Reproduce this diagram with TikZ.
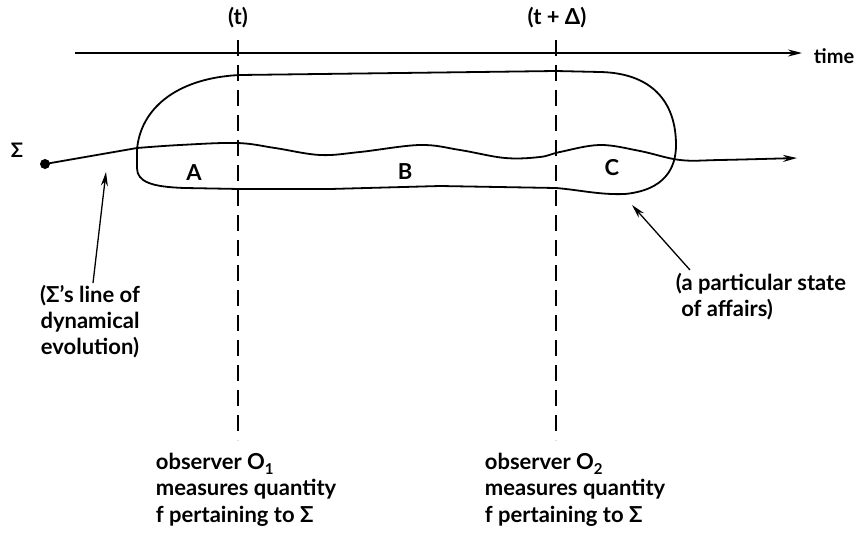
\documentclass[tikz,border=0pt]{standalone}
\usepackage{fontspec}
\setmainfont{Lato}
\usetikzlibrary{arrows.meta}
\begin{document}
\begin{tikzpicture}[x=1pt,y=-1pt,
  line width=1.8pt,
  lbl/.style={font=\fontsize{22}{26}\selectfont\bfseries, inner sep=0pt},
  bot/.style={font=\fontsize{22}{26.5}\selectfont\bfseries, inner sep=0pt, align=left, anchor=north west},
  dashline/.style={line width=1.3pt, dash pattern=on 16pt off 9pt},
  arr/.style={-{Stealth[length=14pt,width=7pt]}}]
\useasboundingbox (0,0) rectangle (865,543);
% time axis
\coordinate (t0) at (75,53);
\coordinate (t1) at (802,53);
\draw[arr] (t0) -- (t1);
\node[lbl, anchor=west, font=\fontsize{20}{24}\selectfont\bfseries] (time) at (813,56) {time};
\node[lbl] (tl) at (238,18) {(t)};
\node[lbl] (tdl) at (557,18) {(t + Δ)};
% dashed verticals
\coordinate (d1a) at (238,40); \coordinate (d1b) at (238,440);
\coordinate (d2a) at (556,40); \coordinate (d2b) at (556,440);
\draw[dashline] (d1a) -- (d1b);
\draw[dashline] (d2a) -- (d2b);
% blob
\draw (137,150) -- (137,168) .. controls (137,182) and (152,187) .. (185,188)
  -- (240,189) -- (330,189) -- (440,186) -- (556,188)
  .. controls (580,190) and (600,195) .. (625,194)
  .. controls (665,190) and (676,168) .. (676,145)
  .. controls (676,100) and (650,73) .. (600,72)
  -- (556,71) -- (400,73) -- (240,75)
  .. controls (175,78) and (140,110) .. (137,150) -- cycle;
% sigma
\node[lbl, font=\fontsize{20}{24}\selectfont\bfseries] (sig) at (17,150) {Σ};
\node[circle, fill, inner sep=0pt, minimum size=10pt] (dot) at (45,164) {};
\coordinate (ent) at (137,148);
\draw (dot.center) -- (ent);
\draw[arr] plot[smooth, tension=0.6] coordinates {(137,148) (180,145) (237,143) (275,148) (320,155) (360,152) (420,145) (460,150) (505,158) (540,157) (560,152) (600,145) (640,151) (680,160) (720,160) (797,158)};
% region labels
\node[lbl] (A) at (194,173) {A};
\node[lbl] (B) at (405,172) {B};
\node[lbl] (C) at (612,168) {C};
% left annotation
\node[lbl, align=center] (ltext) at (90,322) {(Σ's line of\\ dynamical\\ evolution)};
\coordinate (la) at (93,283);
\coordinate (lb) at (106,172);
\draw[arr, line width=1.3pt] (la) -- (lb);
% right annotation
\node[lbl, align=left, anchor=north west] (rtext) at (675,272) {(a particular state\\ \ of affairs)};
\coordinate (ra) at (690,270);
\coordinate (rb) at (632,205);
\draw[arr, line width=1.3pt] (ra) -- (rb);
% bottom texts
\node[bot] (o1) at (155,452) {observer O\raisebox{-0.5ex}{\fontsize{15}{15}\selectfont 1}\\ measures quantity\\ f pertaining to Σ};
\node[bot] (o2) at (484,452) {observer O\raisebox{-0.5ex}{\fontsize{15}{15}\selectfont 2}\\ measures quantity\\ f pertaining to Σ};
\end{tikzpicture}
\end{document}
